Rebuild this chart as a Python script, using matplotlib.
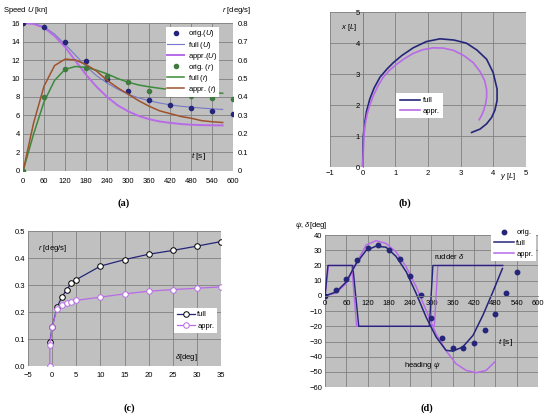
import matplotlib
matplotlib.use('Agg')
import matplotlib.pyplot as plt
from matplotlib.lines import Line2D

plt.rcParams['font.family'] = ['Liberation Sans', 'DejaVu Sans']
plt.rcParams['mathtext.fontset'] = 'custom'
plt.rcParams['mathtext.it'] = 'Liberation Sans:italic'
plt.rcParams['mathtext.rm'] = 'Liberation Sans'
plt.rcParams['font.size'] = 5.5

GRAY = '#c0c0c0'
GRID = '#808080'
NAVY = '#25257a'
VIOLET = '#b86ae8'

# ---- (a) speed and yaw rate vs time
t_orig = [0, 60, 120, 180, 240, 300, 360, 420, 480, 540, 600]
u_orig = [16, 15.6, 14, 11.9, 10, 8.7, 7.7, 7.1, 6.8, 6.5, 6.2]
r_orig = [0, 0.4, 0.55, 0.555, 0.515, 0.48, 0.435, 0.415, 0.405, 0.395, 0.39]
t_sim = [0, 30, 60, 90, 120, 150, 180, 210, 240, 270, 300, 330, 360, 390, 420, 450, 480, 510, 540, 570]
u_full = [16, 15.95, 15.6, 14.8, 13.7, 12.5, 11.3, 10.3, 9.5, 8.85, 8.3, 7.9, 7.6, 7.35, 7.15, 7.0, 6.9, 6.8, 6.72, 6.65]
u_appr = [16, 15.9, 15.5, 14.6, 13.4, 11.9, 10.4, 9.1, 8.0, 7.1, 6.45, 5.95, 5.6, 5.35, 5.2, 5.08, 5.0, 4.96, 4.94, 4.93]
r_full = [0, 0.2, 0.375, 0.49, 0.55, 0.565, 0.56, 0.545, 0.525, 0.5, 0.48, 0.465, 0.455, 0.447, 0.44, 0.435, 0.43, 0.427, 0.424, 0.42]
r_appr = [0, 0.26, 0.46, 0.57, 0.605, 0.6, 0.575, 0.54, 0.49, 0.45, 0.415, 0.38, 0.35, 0.325, 0.31, 0.295, 0.285, 0.272, 0.266, 0.262]

# ---- (b) trajectory
y_full = [0, 0.01, 0.02, 0.06, 0.12, 0.22, 0.35, 0.53, 0.75, 0.94, 1.2, 1.55, 1.95, 2.37, 2.8, 3.18,
          3.5, 3.8, 4.0, 4.12, 4.12, 4.05, 3.95, 3.8, 3.6, 3.34]
x_full = [0, 0.5, 1.0, 1.4, 1.8, 2.2, 2.55, 2.9, 3.17, 3.37, 3.6, 3.85, 4.05, 4.14, 4.1, 4.0,
          3.78, 3.48, 3.05, 2.52, 2.15, 1.83, 1.6, 1.4, 1.23, 1.12]
y_appr = [0, 0.02, 0.04, 0.08, 0.14, 0.22, 0.33, 0.47, 0.63, 0.82, 1.04, 1.28, 1.55, 1.85, 2.16, 2.48,
          2.78, 3.1, 3.39, 3.6, 3.74, 3.8, 3.8, 3.77, 3.71, 3.65, 3.57]
x_appr = [0, 0.5, 0.98, 1.4, 1.72, 2.0, 2.31, 2.62, 2.9, 3.12, 3.32, 3.5, 3.67, 3.79, 3.85, 3.84,
          3.77, 3.6, 3.37, 3.08, 2.79, 2.5, 2.26, 2.05, 1.83, 1.68, 1.53]

# ---- (c) steady yaw rate vs rudder angle
d_full = [-0.5, 0, 1, 2, 3, 4, 5, 10, 15, 20, 25, 30, 35]
rr_full = [0.09, 0.145, 0.219, 0.256, 0.284, 0.308, 0.321, 0.371, 0.395, 0.415, 0.429, 0.445, 0.462]
d_appr = [-0.5, -0.5, 0, 1, 2, 3, 4, 5, 10, 15, 20, 25, 30, 35]
rr_appr = [0.0, 0.08, 0.145, 0.213, 0.225, 0.234, 0.238, 0.244, 0.256, 0.268, 0.278, 0.284, 0.289, 0.294]

# ---- (d) zig-zag
tz_orig = [0, 30, 60, 90, 120, 150, 180, 210, 240, 270, 300, 330, 360, 390, 420, 450, 480, 510, 540]
psi_orig = [0, 3.7, 11, 23.5, 31.6, 33.4, 30, 24, 13.2, 0.9, -14.5, -28, -34.3, -34.3, -30.8, -22.6, -12, 2, 15.8]
tz_full = [0, 31, 59, 87, 116, 144, 172, 200, 229, 257, 285, 313, 341, 360, 388, 417, 445, 473, 500]
psi_full = [0, 2.6, 9, 21, 30, 32.7, 32, 26, 15.8, 1.5, -14, -27, -35.8, -36.3, -33.6, -26, -12.7, 2.6, 18]
tz_appr = [0, 31, 59, 87, 116, 144, 172, 200, 229, 257, 285, 313, 341, 369, 398, 426, 454, 478]
psi_appr = [0, 2, 8, 21, 33.5, 36.3, 34.5, 29, 19, 6, -9.5, -25, -36, -44.6, -49, -50.5, -49, -43.5]
tr_full = [0, 8, 78, 95, 294, 304, 501]
rud_full = [0, 20, 20, -20, -20, 20, 20]
tr_appr = [0, 10, 75, 89, 308, 318, 501]
rud_appr = [0, 20, 20, -20, -20, 20, 20]


def style(ax):
    ax.set_facecolor(GRAY)
    for s in ax.spines.values():
        s.set_visible(False)
    ax.grid(True, color=GRID, lw=0.6)
    ax.set_axisbelow(True)
    ax.tick_params(length=0, pad=2, labelsize=5.5)


fig = plt.figure(figsize=(5.5, 4.19), dpi=100)

# (a)
ax = fig.add_axes([0.042, 0.592, 0.382, 0.353])
style(ax)
ax.set_xlim(0, 600)
ax.set_ylim(0, 16)
ax.set_xticks(range(0, 601, 60))
ax.set_yticks(range(0, 17, 2))
ax.tick_params(axis='x', pad=5)
ax.plot(t_sim, u_full, color='#7878c8', lw=0.8)
ax.plot(t_sim, u_appr, color=VIOLET, lw=1.4)
ax.plot(t_orig, u_orig, 'o', color=NAVY, ms=3)
ax2 = ax.twinx()
ax2.set_ylim(0, 0.8)
ax2.set_yticks([0, 0.1, 0.2, 0.3, 0.4, 0.5, 0.6, 0.7, 0.8])
ax2.set_yticklabels(['0', '0.1', '0.2', '0.3', '0.4', '0.5', '0.6', '0.7', '0.8'])
for s in ax2.spines.values():
    s.set_visible(False)
ax2.tick_params(length=0, pad=3, labelsize=5.5)
ax2.plot(t_sim, r_full, color='#3c8a3c', lw=1.1)
ax2.plot(t_sim, r_appr, color='#a0522d', lw=1.1)
ax2.plot(t_orig, r_orig, 'o', color='#3f7a3f', ms=3)
handles = [Line2D([], [], ls='', marker='o', color=NAVY, ms=3),
           Line2D([], [], color='#7878c8', lw=0.8),
           Line2D([], [], color=VIOLET, lw=1.4),
           Line2D([], [], ls='', marker='o', color='#3f7a3f', ms=3),
           Line2D([], [], color='#3c8a3c', lw=1.1),
           Line2D([], [], color='#a0522d', lw=1.1)]
labels = ['orig.($U$)', 'full ($U$)', 'appr.($U$)', 'orig. ($r$)', 'full ($r$)', 'appr. ($r$)']
lg = ax2.legend(handles, labels, loc='upper left', bbox_to_anchor=(0.66, 1.0), fontsize=5.5,
                frameon=True, fancybox=False, edgecolor='none', framealpha=1,
                handlelength=2.2, labelspacing=0.02, borderpad=0.2, handletextpad=0.5)
fig.text(0.005, 0.975, 'Speed $U$ [kn]', fontsize=5.5, va='center')
fig.text(0.457, 0.975, '$r$ [deg/s]', fontsize=5.5, va='center', ha='right')
ax.text(500, 1.4, '$t$ [s]', fontsize=6, ha='center')
fig.text(0.224, 0.51, '(a)', fontsize=7.5, ha='center', family='Liberation Serif', weight='bold')

# (b)
bx = fig.add_axes([0.600, 0.601, 0.356, 0.370])
style(bx)
bx.set_xlim(-1, 5)
bx.set_ylim(0, 5)
bx.set_xticks(range(-1, 6))
bx.set_yticks(range(0, 6))
bx.spines['left'].set_position(('data', 0))
bx.spines['left'].set_visible(True)
bx.spines['left'].set_color(GRID)
bx.spines['left'].set_linewidth(0.6)
bx.plot(y_full, x_full, color=NAVY, lw=1.2, label='full')
bx.plot(y_appr, x_appr, color=VIOLET, lw=1.2, label='appr.')
bx.legend(loc='lower left', bbox_to_anchor=(0.32, 0.29), fontsize=5.5, frameon=True,
          fancybox=False, edgecolor='none', framealpha=1, handlelength=2.6,
          labelspacing=0.4, borderpad=0.5, handletextpad=0.3)
bx.text(-0.65, 4.45, '$x$ [$L$]', fontsize=5.5)
bx.text(4.45, -0.3, '$y$ [$L$]', fontsize=5.5, ha='center', va='center')
fig.text(0.736, 0.51, '(b)', fontsize=7.5, ha='center', family='Liberation Serif', weight='bold')

# (c)
cx = fig.add_axes([0.051, 0.126, 0.351, 0.322])
style(cx)
cx.set_xlim(-5, 35)
cx.set_ylim(0, 0.5)
cx.set_xticks(range(-5, 36, 5))
cx.set_yticks([0, 0.1, 0.2, 0.3, 0.4, 0.5])
cx.set_yticklabels(['0.0', '0.1', '0.2', '0.3', '0.4', '0.5'])
cx.tick_params(axis='x', pad=4)
cx.plot(d_full, rr_full, '-o', color=NAVY, lw=0.9, ms=4, mfc='white', mec='black', mew=0.7, label='full')
cx.plot(d_appr, rr_appr, '-o', color=VIOLET, lw=0.9, ms=4, mfc='white', mec=VIOLET, mew=0.7, label='appr.')
cx.legend(loc='lower right', bbox_to_anchor=(1.0, 0.22), fontsize=5.5, frameon=True,
          fancybox=False, edgecolor='none', framealpha=1, handlelength=2.4,
          labelspacing=0.5, borderpad=0.4, handletextpad=0.3)
cx.text(-2.9, 0.43, '$r$ [deg/s]', fontsize=5.5)
cx.text(25.5, 0.028, '$\\delta$[deg]', fontsize=5.5)
fig.text(0.236, 0.02, '(c)', fontsize=7.5, ha='center', family='Liberation Serif', weight='bold')

# (d)
dx = fig.add_axes([0.591, 0.076, 0.387, 0.363])
style(dx)
dx.set_xlim(0, 600)
dx.set_ylim(-60, 40)
dx.set_xticks(range(0, 601, 60))
dx.set_yticks(range(-60, 41, 10))
dx.spines['bottom'].set_position(('data', 0))
dx.spines['bottom'].set_visible(True)
dx.spines['bottom'].set_color(GRID)
dx.spines['bottom'].set_linewidth(0.6)
dx.tick_params(axis='x', pad=3)
dx.plot(tr_appr, rud_appr, color=VIOLET, lw=1.0)
dx.plot(tr_full, rud_full, color=NAVY, lw=1.0)
dx.plot(tz_appr, psi_appr, color=VIOLET, lw=1.1)
dx.plot(tz_full, psi_full, color=NAVY, lw=1.1)
dx.plot(tz_orig, psi_orig, 'o', color=NAVY, ms=3.2)
hd = [Line2D([], [], ls='', marker='o', color=NAVY, ms=3.2),
      Line2D([], [], color=NAVY, lw=1.1),
      Line2D([], [], color=VIOLET, lw=1.1)]
dx.legend(hd, ['orig.', 'full', 'appr.'], loc='upper right', bbox_to_anchor=(1.01, 1.085),
          fontsize=5.5, frameon=True, fancybox=False, edgecolor='none', framealpha=1,
          handlelength=2.6, labelspacing=0.45, borderpad=0.4, handletextpad=0.3)
fig.text(0.537, 0.462, '$\\psi$, $\\delta$[deg]', fontsize=5.5, va='center')
dx.text(308, 24, 'rudder $\\delta$', fontsize=5.5)
dx.text(222, -47, 'heading $\\psi$', fontsize=5.5)
dx.text(488, -31.5, '$t$ [s]', fontsize=6)
fig.text(0.776, 0.02, '(d)', fontsize=7.5, ha='center', family='Liberation Serif', weight='bold')

fig.savefig('out.png', dpi=100)
